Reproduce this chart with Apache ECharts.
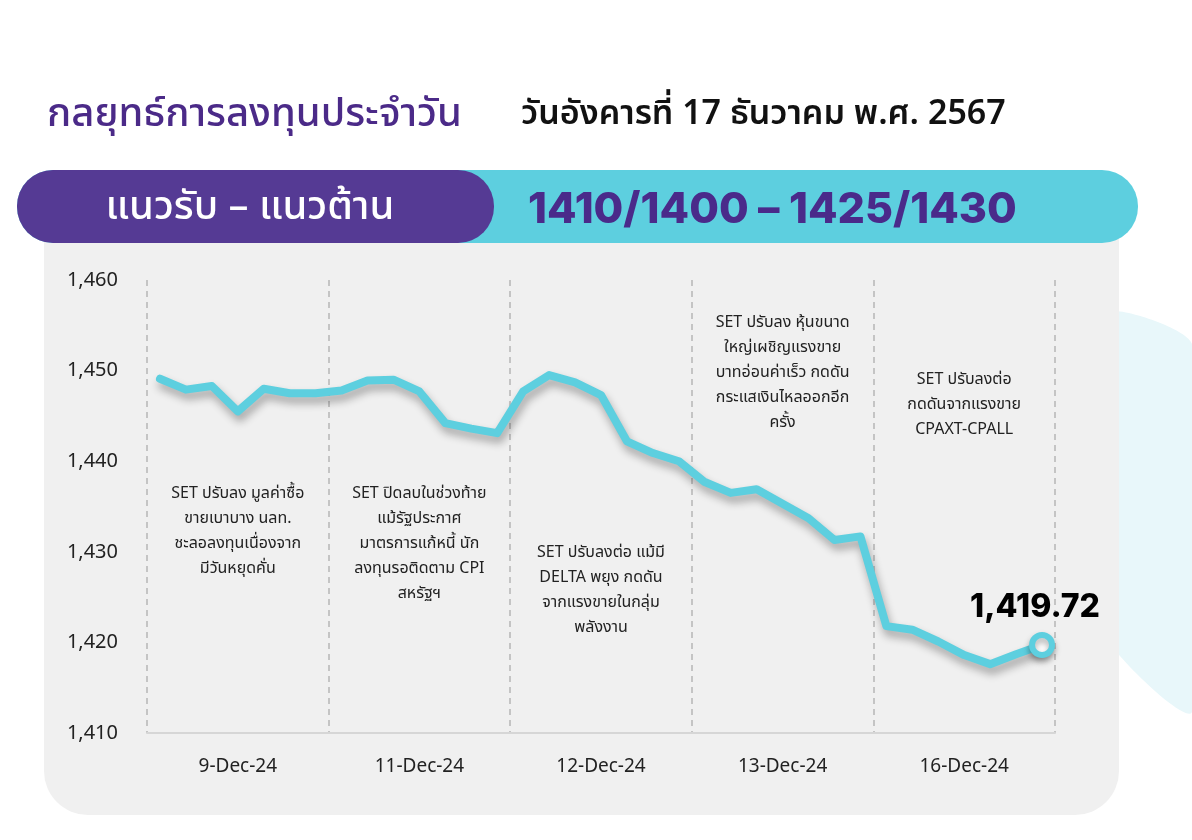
<!DOCTYPE html>
<html>
<head>
<meta charset="utf-8">
<script src="https://cdn.jsdelivr.net/npm/echarts@6/dist/echarts.min.js"></script>
<style>
  html, body { margin: 0; padding: 0; background: #ffffff; }
  #chart { width: 1192px; height: 840px; }
</style>
</head>
<body>
<div id="chart"></div>
<script>
// Trading days shown on the axis
const days = ['9-Dec-24', '11-Dec-24', '12-Dec-24', '13-Dec-24', '16-Dec-24'];

// SET index, seven intraday readings per trading day
const set9Dec  = [1449.1, 1447.9, 1448.3, 1445.5, 1448.0, 1447.5, 1447.5];
const set11Dec = [1447.8, 1448.9, 1449.0, 1447.7, 1444.2, 1443.6, 1443.1];
const set12Dec = [1447.7, 1449.5, 1448.7, 1447.3, 1442.2, 1440.9, 1440.0];
const set13Dec = [1437.7, 1436.5, 1436.9, 1435.3, 1433.7, 1431.3, 1431.7];
const set16Dec = [1421.8, 1421.4, 1420.1, 1418.6, 1417.6, 1418.7, 1419.72];

// Y axis range and step
const yMin = 1410, yMax = 1460, yStep = 10;

// Daily market commentary
const notes = [
  'SET ปรับลง มูลค่าซื้อ\nขายเบาบาง นลท.\nชะลอลงทุนเนื่องจาก\nมีวันหยุดคั่น',
  'SET ปิดลบในช่วงท้าย\nแม้รัฐประกาศ\nมาตรการแก้หนี้ นัก\nลงทุนรอติดตาม CPI\nสหรัฐฯ',
  'SET ปรับลงต่อ แม้มี\nDELTA พยุง กดดัน\nจากแรงขายในกลุ่ม\nพลังงาน',
  'SET ปรับลง หุ้นขนาด\nใหญ่เผชิญแรงขาย\nบาทอ่อนค่าเร็ว กดดัน\nกระแสเงินไหลออกอีก\nครั้ง',
  'SET ปรับลงต่อ\nกดดันจากแรงขาย\nCPAXT-CPALL'
];
// Index level at which each note's first line starts
const noteAnchors = [1437.7, 1437.7, 1431.2, 1456.6, 1450.3];

const series = [set9Dec, set11Dec, set12Dec, set13Dec, set16Dec];
const perDay = set9Dec.length;
const slots = days.flatMap(d => Array.from({ length: perDay }, (_, i) => d + ' ' + (i + 1)));
const values = series.flat();
const lastIdx = values.length - 1;

const TEAL = '#5dcfdf';
const PURPLE = '#553a94';
const FONT = '"Noto Sans Thai", "Noto Sans", "Inter", sans-serif';

const fmt = v => v.toLocaleString('en-US', { maximumFractionDigits: 2 });

const lineData = values.map((v, i) => i === lastIdx ? {
  value: v,
  symbol: 'circle',
  symbolSize: 20,
  itemStyle: { color: '#ffffff', borderColor: TEAL, borderWidth: 6,
               shadowColor: 'rgba(0,0,0,0.3)', shadowBlur: 6, shadowOffsetY: 4 },
  label: {
    show: true, position: 'top', distance: 9, offset: [-7, 0],
    formatter: p => fmt(p.value),
    fontFamily: '"Inter", "Noto Sans", sans-serif', fontWeight: 800, fontSize: 32, color: '#000'
  }
} : v);

const chart = echarts.init(document.getElementById('chart'), null, { renderer: 'canvas' });

chart.setOption({
  backgroundColor: '#ffffff',
  animation: false,
  textStyle: { fontFamily: FONT },
  graphic: [
    // faint decorative shape on the right edge
    { type: 'polygon', z: -20, silent: true,
      shape: { points: [[1100, 314], [1192, 344], [1192, 712], [1100, 626]], smooth: 0.2 },
      style: { fill: '#e8f7fa' } },
    // grey chart panel
    { type: 'rect', z: -10, silent: true,
      shape: { x: 44, y: 236, width: 1075, height: 579, r: [0, 0, 44, 44] },
      style: { fill: '#f0f0f0' } },
    // header bar
    { type: 'rect', z: -5, silent: true,
      shape: { x: 17, y: 170, width: 1121, height: 73, r: 36 },
      style: { fill: TEAL } },
    { type: 'rect', z: -4, silent: true,
      shape: { x: 17, y: 170, width: 477, height: 73, r: 36 },
      style: { fill: PURPLE } },
    { type: 'text', x: 250, y: 211, z: 10, silent: true,
      style: { text: 'แนวรับ – แนวต้าน', fill: '#ffffff', font: '500 40px ' + FONT,
               align: 'center', verticalAlign: 'middle' } },
    { type: 'text', x: 528, y: 210, z: 10, silent: true,
      style: { text: '1410/1400 – 1425/1430', fill: '#4a2a8a', font: '800 43px "Inter", "Noto Sans", sans-serif',
               align: 'left', verticalAlign: 'middle' } },
    // titles
    { type: 'text', x: 47, y: 118, z: 10, silent: true,
      style: { text: 'กลยุทธ์การลงทุนประจำวัน', fill: '#4b2a88', font: '500 40px ' + FONT,
               align: 'left', verticalAlign: 'middle' } },
    { type: 'text', x: 521, y: 117, z: 10, silent: true,
      style: { text: 'วันอังคารที่ 17 ธันวาคม พ.ศ. 2567', fill: '#111111', font: '600 34px ' + FONT,
               align: 'left', verticalAlign: 'middle' } }
  ],
  grid: { left: 147, right: 137, top: 280, bottom: 107, containLabel: false },
  xAxis: [
    {
      type: 'category', data: days, boundaryGap: true, position: 'bottom',
      axisLine: { show: true, lineStyle: { color: '#d6d6d6', width: 2 } },
      axisTick: { show: false },
      axisLabel: { color: '#222', fontSize: 19, margin: 24, fontFamily: '"Noto Sans", "Inter", sans-serif' },
      splitLine: { show: true, lineStyle: { color: '#b5b5b5', width: 1.5, type: [6, 5] } }
    },
    {
      type: 'category', data: slots, boundaryGap: true, show: false
    }
  ],
  yAxis: {
    type: 'value', min: yMin, max: yMax, interval: yStep,
    axisLine: { show: false }, axisTick: { show: false }, splitLine: { show: false },
    axisLabel: { color: '#222', fontSize: 20, margin: 29, formatter: v => fmt(v),
                 fontFamily: '"Noto Sans", "Inter", sans-serif' }
  },
  series: [{
    type: 'line',
    xAxisIndex: 1,
    data: lineData,
    symbol: 'none',
    showSymbol: true,
    smooth: false,
    lineStyle: { color: TEAL, width: 8, join: 'round', cap: 'round',
                 shadowColor: 'rgba(0,0,0,0.32)', shadowBlur: 8, shadowOffsetX: 2, shadowOffsetY: 6 },
    itemStyle: { color: TEAL },
    z: 5,
    markPoint: {
      symbol: 'circle', symbolSize: 0, silent: true,
      itemStyle: { color: 'rgba(0,0,0,0)' },
      label: {
        show: true, position: 'bottom', distance: 0,
        color: '#222', fontSize: 16, lineHeight: 25, align: 'center',
        fontFamily: FONT
      },
      data: notes.map((t, k) => ({
        coord: [k * perDay + Math.floor(perDay / 2), noteAnchors[k]],
        label: { formatter: t }
      }))
    }
  }]
});
</script>
</body>
</html>
